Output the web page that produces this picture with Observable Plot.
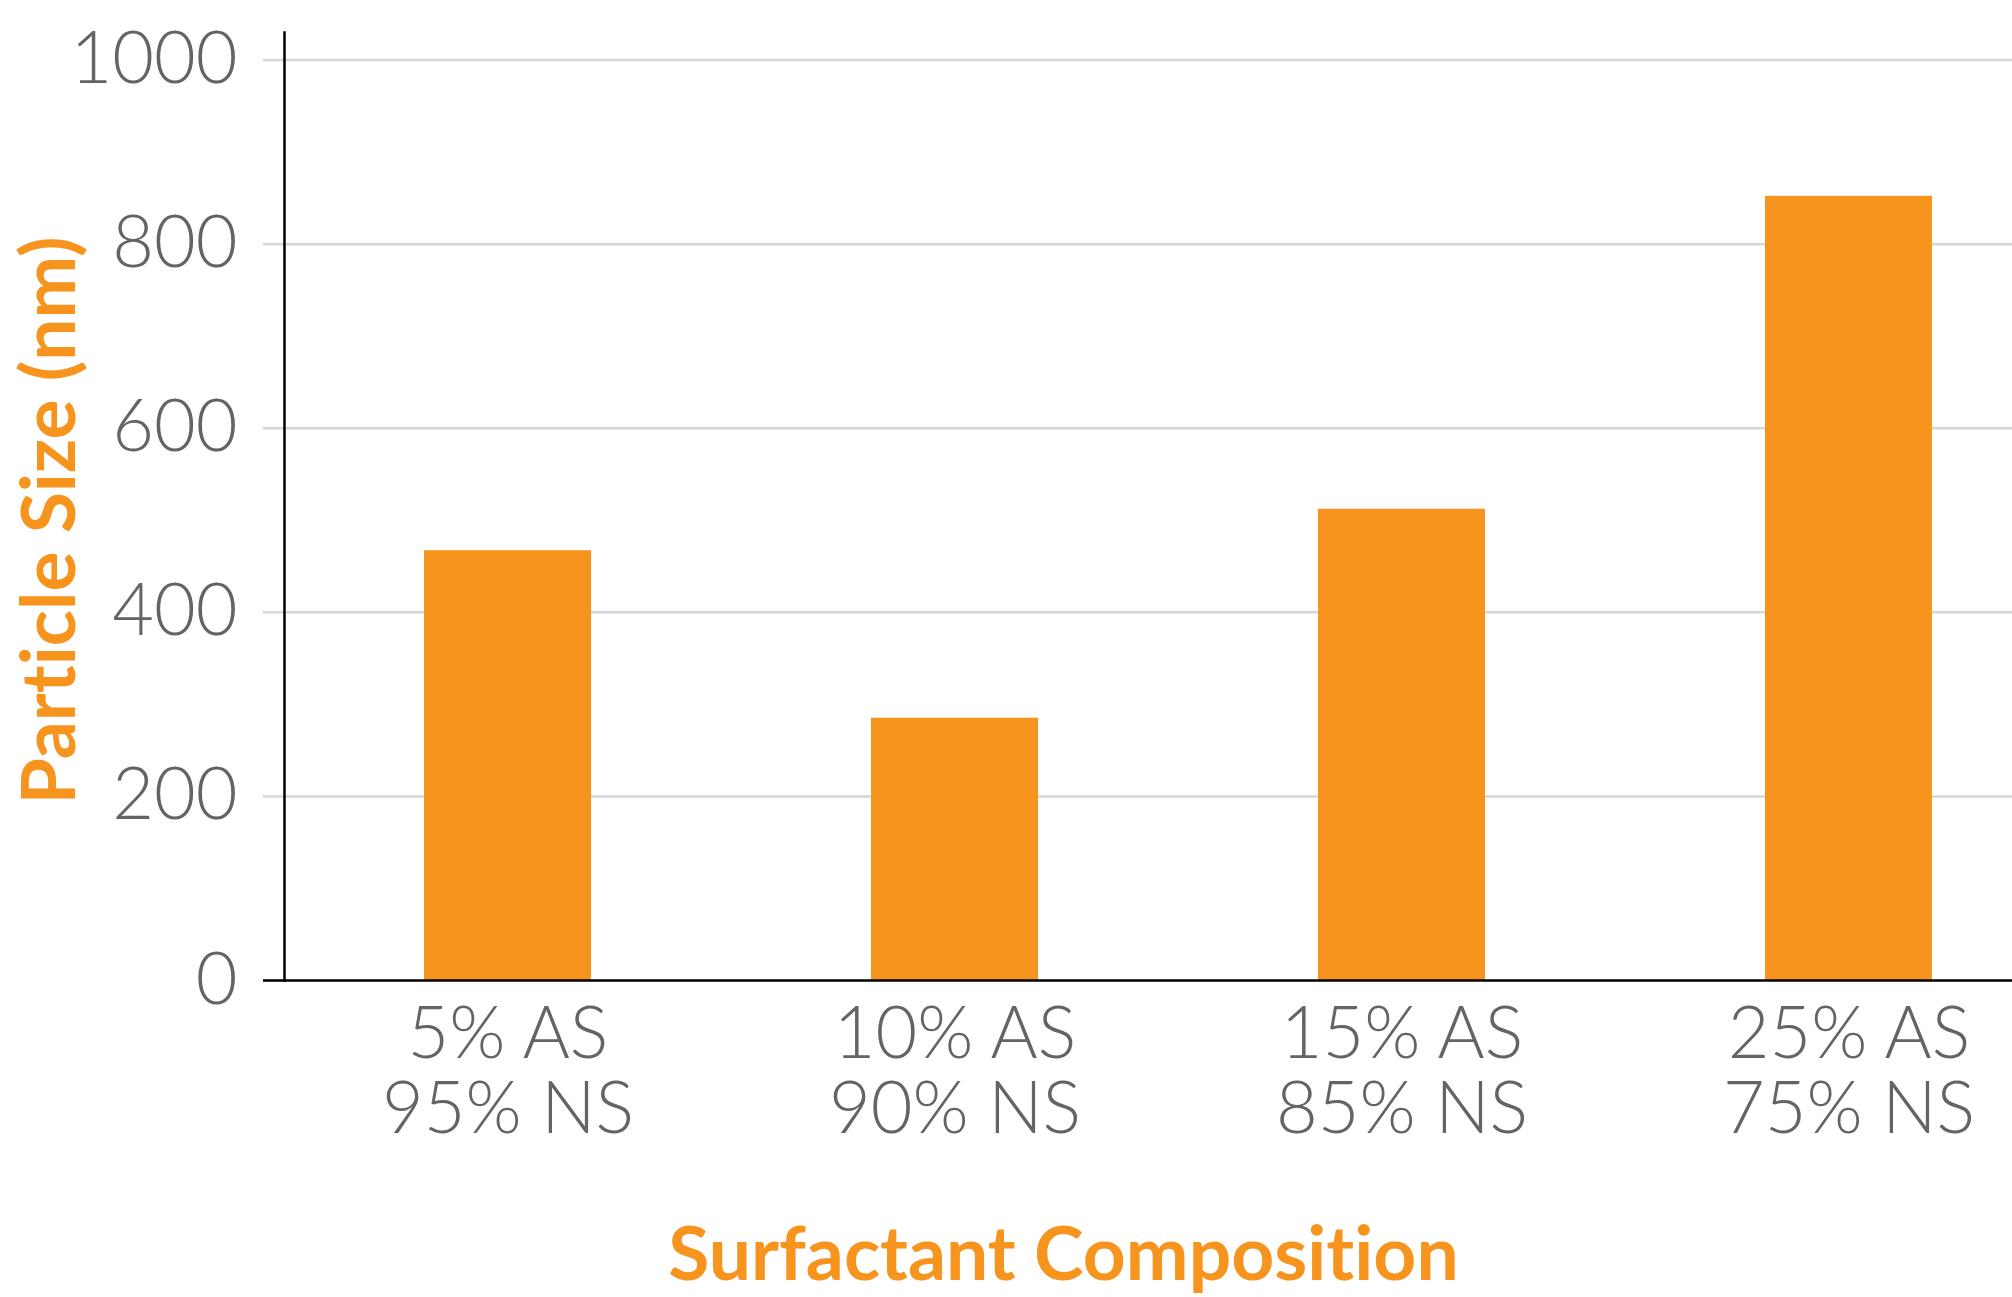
<!DOCTYPE html>
<html>
<head>
<meta charset="utf-8">
<script src="https://cdn.jsdelivr.net/npm/d3@7"></script>
<script src="https://cdn.jsdelivr.net/npm/@observablehq/plot@0.6"></script>
<style>
  html, body { margin: 0; padding: 0; background: #ffffff; }
  #chart svg { display: block; }
  #chart svg text { font-variant-ligatures: none; font-feature-settings: "liga" 0, "clig" 0; }
</style>
</head>
<body>
<div id="chart"></div>
<script>
// Data
const asLabels = ["5% AS", "10% AS", "15% AS", "25% AS"];
const nsLabels = ["95% NS", "90% NS", "85% NS", "75% NS"];
const particleSize = [467, 285, 512, 852];
const yTicks = [0, 200, 400, 600, 800, 1000];
const xTitle = "Surfactant Composition";
const yTitle = "Particle Size (nm)";

const categories = asLabels.map((a, i) => a + "\n" + nsLabels[i]);
const rows = categories.map((c, i) => ({category: c, size: particleSize[i]}));

const orange = "#F7941E";
const gray = "#646464";
const grid = "#d6d6d6";
const tickFont = "Lato, 'Open Sans', sans-serif";

const chart = Plot.plot({
  width: 2012,
  height: 1297,
  marginLeft: 284,
  marginRight: 0,
  marginTop: 32,
  marginBottom: 317,
  style: {fontFamily: tickFont, background: "#ffffff"},
  x: {domain: categories, range: [284, 2072], paddingInner: 0.626, paddingOuter: 0.313, axis: null},
  y: {domain: [0, 1030], axis: null},
  marks: [
    Plot.ruleY(yTicks.filter(d => d > 0), {stroke: grid, strokeWidth: 2.5}),
    Plot.axisY({ticks: yTicks, tickSize: 21, tickPadding: 26, stroke: grid, strokeWidth: 2.5,
      fill: gray, fontSize: 72, fontWeight: 300, label: null, tickFormat: d => String(d)}),
    Plot.barY(rows, {x: "category", y: "size", fill: orange}),
    Plot.axisY({ticks: [0], tickSize: 21, stroke: "black", strokeWidth: 2.5, tickFormat: () => "", label: null}),
    Plot.ruleY([0], {stroke: "black", strokeWidth: 2.5}),
    Plot.frame({anchor: "left", stroke: "black", strokeWidth: 2.5}),
    Plot.axisX({tickSize: 0, tickPadding: 24, fill: gray, fontSize: 72, fontWeight: 300,
      lineHeight: 1.04, label: null}),
    Plot.text([xTitle], {frameAnchor: "bottom", text: d => d, dx: -85, dy: 275,
      fill: orange, fontSize: 75, fontWeight: 700, textAnchor: "middle", lineAnchor: "middle"}),
    Plot.text([yTitle], {frameAnchor: "left", text: d => d, rotate: -90, dx: -234, dy: 14,
      fill: orange, fontSize: 75, fontWeight: 700, textAnchor: "middle", lineAnchor: "middle"})
  ]
});
document.getElementById("chart").appendChild(chart);
</script>
</body>
</html>
